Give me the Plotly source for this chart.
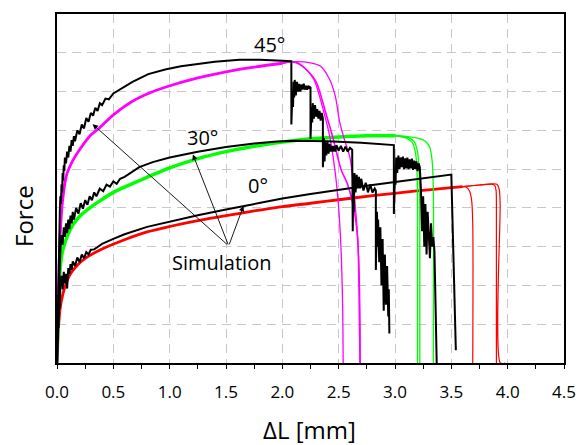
import plotly.graph_objects as go

# ---------------- simulated curves (coloured) ----------------
# 0 deg simulation: shared loading branch, then three fracture tails
x_sim0 = [0, 0.005, 0.015, 0.03, 0.05, 0.08, 0.12, 0.18, 0.25, 0.4, 0.6, 0.8, 1.0, 1.25, 1.5,
          1.75, 2.0, 2.25, 2.5, 2.82, 3.17, 3.5, 3.6]
f_sim0 = [0, 0.5, 1.0, 1.45, 1.75, 2.05, 2.3, 2.52, 2.7, 2.94, 3.18, 3.38, 3.52, 3.67, 3.8,
          3.92, 4.03, 4.12, 4.21, 4.32, 4.43, 4.52, 4.55]
x_sim0_a = [3.6, 3.63, 3.66, 3.68, 3.69, 3.69]
f_sim0_a = [4.55, 4.54, 4.44, 4.2, 3.6, 0]
x_sim0_b = [3.6, 3.75, 3.86, 3.885, 3.897, 3.9, 3.9]
f_sim0_b = [4.55, 4.59, 4.61, 4.58, 4.45, 4.1, 0]
x_sim0_c = [3.6, 3.75, 3.86, 3.905, 3.925, 3.933, 3.935, 3.98]
f_sim0_c = [4.55, 4.59, 4.62, 4.61, 4.48, 4.1, 0, 0]

# 30 deg simulation
x_sim30 = [0, 0.01, 0.02, 0.03, 0.05, 0.087, 0.145, 0.2, 0.3, 0.38, 0.5, 0.73, 1.0, 1.25, 1.5,
           1.75, 2.0, 2.25, 2.5, 2.75, 3.0]
f_sim30 = [0, 1.2, 2.0, 2.5, 2.9, 3.24, 3.58, 3.78, 4.02, 4.18, 4.4, 4.7, 5.03, 5.27, 5.45,
           5.59, 5.7, 5.78, 5.83, 5.86, 5.86]
x_sim30_a = [3.0, 3.1, 3.15, 3.18, 3.195, 3.2, 3.2]
f_sim30_a = [5.86, 5.8, 5.7, 5.45, 5.0, 4.0, 0]
x_sim30_b = [3.0, 3.12, 3.17, 3.2, 3.213, 3.22, 3.22]
f_sim30_b = [5.86, 5.81, 5.71, 5.45, 5.0, 4.0, 0]
x_sim30_c = [3.0, 3.2, 3.27, 3.31, 3.33, 3.34, 3.34]
f_sim30_c = [5.87, 5.8, 5.72, 5.55, 5.2, 4.5, 0]

# 45 deg simulation
x_sim45 = [0, 0.01, 0.02, 0.03, 0.05, 0.087, 0.14, 0.2, 0.3, 0.38, 0.5, 0.67, 0.81, 0.96,
           1.25, 1.5, 1.75, 2.0]
f_sim45 = [0, 1.5, 2.6, 3.4, 4.2, 4.87, 5.22, 5.5, 5.88, 6.07, 6.4, 6.75, 6.95, 7.11,
           7.35, 7.51, 7.63, 7.73]
x_sim45_a = [2.0, 2.1, 2.2, 2.28, 2.37, 2.42, 2.47, 2.5, 2.52, 2.535, 2.54]
f_sim45_a = [7.73, 7.76, 7.6, 7.31, 6.45, 5.85, 4.9, 4.0, 3.0, 1.5, 0]
x_sim45_b = [2.0, 2.12, 2.22, 2.3, 2.39, 2.45, 2.52, 2.58, 2.64, 2.67, 2.68, 2.69]
f_sim45_b = [7.73, 7.76, 7.55, 7.25, 6.4, 5.8, 5.0, 4.6, 3.9, 3.15, 2.0, 0]
x_sim45_c = [2.0, 2.1, 2.25, 2.34, 2.42, 2.47, 2.51, 2.55, 2.6, 2.63, 2.66, 2.68, 2.69, 2.69]
f_sim45_c = [7.73, 7.77, 7.74, 7.65, 7.31, 6.88, 6.2, 5.77, 5.3, 4.6, 3.6, 2.5, 1.0, 0]

# ---------------- measured curves (black) ----------------
x_exp0 = [0, 0.005, 0.01, 0.015, 0.02, 0.025, 0.03, 0.04, 0.05, 0.06, 0.07, 0.08, 0.09, 0.10,
          0.11, 0.12, 0.13, 0.14, 0.16, 0.18, 0.20, 0.22, 0.24, 0.26, 0.28, 0.30, 0.33, 0.36,
          0.40, 0.5, 0.6, 0.8, 1.0, 1.25, 1.5, 1.75, 2.0, 2.25, 2.5, 2.75, 3.0, 3.25, 3.48,
          3.5, 3.54]
f_exp0 = [0, 0.7, 1.3, 0.9, 1.8, 1.4, 2.1, 2.25, 1.9, 2.35, 2.05, 2.3, 1.92, 2.45,
          2.3, 2.55, 2.4, 2.62, 2.5, 2.72, 2.6, 2.8, 2.7, 2.86, 2.8, 2.92, 2.93, 2.99,
          3.07, 3.2, 3.32, 3.51, 3.65, 3.81, 3.96, 4.1, 4.24, 4.36, 4.47, 4.57, 4.67, 4.76, 4.85,
          4.86, 0.33]

x_exp30 = [0, 0.01, 0.02, 0.03, 0.04, 0.05, 0.06, 0.07, 0.08, 0.09, 0.1, 0.11, 0.12, 0.13,
           0.14, 0.15, 0.17, 0.19, 0.21, 0.23, 0.25, 0.27, 0.29, 0.31, 0.33, 0.35, 0.38, 0.41,
           0.44, 0.47, 0.5, 0.53, 0.56, 0.6, 0.65, 0.73, 0.85, 1.0, 1.25, 1.5, 1.75, 1.95,
           2.12, 2.4, 2.7, 2.96, 2.99,
           2.99, 3.0, 3.005, 3.01, 3.02, 3.03, 3.04, 3.05, 3.06, 3.07, 3.08, 3.09, 3.1, 3.11,
           3.12, 3.13, 3.14, 3.15, 3.16, 3.17, 3.18, 3.19, 3.2, 3.21, 3.22,
           3.23, 3.24, 3.25, 3.26, 3.27, 3.28, 3.29, 3.3, 3.31, 3.32, 3.33, 3.34, 3.35, 3.36,
           3.37]
f_exp30 = [0, 1.4, 2.2, 2.9, 3.3, 3.05, 3.5, 3.25, 3.6, 3.35, 3.7, 3.45, 3.8, 3.6,
           3.9, 3.7, 4.0, 3.85, 4.12, 3.98, 4.2, 4.08, 4.3, 4.2, 4.4, 4.3, 4.5, 4.43,
           4.6, 4.55, 4.68, 4.62, 4.75, 4.8, 4.9, 5.05, 5.18, 5.3, 5.45, 5.57, 5.66, 5.71,
           5.73, 5.72, 5.68, 5.63, 5.62,
           3.84, 4.9, 4.6, 5.3, 4.9, 5.35, 5.0, 5.3, 5.05, 5.32, 5.0, 5.28, 5.02, 5.3,
           5.0, 5.25, 5.02, 5.27, 4.98, 5.22, 5.0, 5.2, 4.95, 5.15, 5.05,
           4.5, 3.4, 4.3, 3.0, 4.1, 2.8, 3.9, 3.3, 2.7, 3.6, 3.0, 3.25, 2.9, 1.5,
           0]

x_exp45 = [0, 0.005, 0.01, 0.015, 0.02, 0.025, 0.03, 0.035, 0.04, 0.045, 0.05, 0.055, 0.06,
           0.065, 0.07, 0.08, 0.09, 0.1, 0.11, 0.12, 0.13, 0.14, 0.15, 0.16, 0.18, 0.2, 0.22,
           0.24, 0.26, 0.28, 0.3, 0.32, 0.34, 0.36, 0.38, 0.4, 0.43, 0.46, 0.5, 0.58, 0.67,
           0.81, 0.96, 1.1, 1.25, 1.4, 1.62, 1.8, 1.95, 2.08,
           2.08, 2.09, 2.095, 2.1, 2.105, 2.11, 2.12, 2.13, 2.14, 2.15, 2.16, 2.17, 2.18, 2.19,
           2.2, 2.21, 2.22, 2.23, 2.24, 2.25,
           2.25, 2.26, 2.265, 2.27, 2.28, 2.29, 2.3, 2.31, 2.32, 2.33, 2.34, 2.35, 2.36,
           2.36, 2.37, 2.375, 2.38, 2.39, 2.4, 2.41, 2.42, 2.43, 2.44, 2.45, 2.46, 2.47, 2.48,
           2.5, 2.52, 2.54, 2.56, 2.58, 2.6, 2.62,
           2.625, 2.63, 2.635, 2.64, 2.65, 2.66, 2.67, 2.68, 2.69, 2.7, 2.72, 2.74, 2.76, 2.78,
           2.8, 2.82, 2.83,
           2.83, 2.84, 2.845, 2.85, 2.86, 2.87, 2.88, 2.89, 2.9, 2.91, 2.92, 2.93, 2.94, 2.945,
           2.95]
f_exp45 = [0, 1.0, 2.0, 2.8, 3.4, 3.9, 4.3, 4.1, 4.6, 4.4, 4.9, 4.7, 5.1,
           4.95, 5.3, 5.15, 5.45, 5.3, 5.6, 5.45, 5.75, 5.6, 5.85, 5.72, 6.0, 5.9, 6.15,
           6.05, 6.32, 6.22, 6.45, 6.38, 6.58, 6.5, 6.7, 6.65, 6.82, 6.8, 6.95, 7.1, 7.25,
           7.45, 7.57, 7.65, 7.71, 7.77, 7.82, 7.82, 7.8, 7.78,
           6.15, 7.0, 6.6, 7.25, 6.85, 7.3, 6.9, 7.25, 7.0, 7.2, 7.0, 7.18, 7.05, 7.2,
           7.05, 7.15, 7.05, 7.15, 7.1, 7.12,
           5.78, 6.6, 6.2, 6.7, 6.3, 6.65, 6.35, 6.55, 6.3, 6.5, 6.25, 6.45, 6.3,
           5.05, 5.8, 5.2, 5.7, 5.35, 5.7, 5.4, 5.65, 5.45, 5.6, 5.45, 5.6, 5.45, 5.62,
           5.48, 5.6, 5.45, 5.58, 5.45, 5.55, 5.5,
           3.4, 4.8, 3.9, 4.9, 4.4, 4.85, 4.5, 4.8, 4.5, 4.75, 4.45, 4.65, 4.4, 4.6,
           4.4, 4.5, 4.45,
           2.4, 3.9, 3.0, 3.7, 2.6, 3.5, 2.0, 3.2, 1.35, 2.8, 1.5, 2.5, 1.2, 1.9,
           0.76]

# ---------------- labels ----------------
angle_labels = ["45°", "30°", "0°"]
angle_label_x = [1.884, 1.292, 1.788]
angle_label_y = [8.22, 5.82, 4.59]
sim_label = "Simulation"
sim_label_xy = (1.459, 2.59)
arrow_tail = (1.524, 3.02)
arrow_heads_x = [0.316, 1.206, 1.655]
arrow_heads_y = [6.16, 5.38, 4.05]
x_ticks = [0.0, 0.5, 1.0, 1.5, 2.0, 2.5, 3.0, 3.5, 4.0, 4.5]

MAGENTA = "#ff00ff"
GREEN = "#00ff00"
RED = "#ff0000"

fig = go.Figure()


def add_line(x, y, color, width, shape="linear"):
    fig.add_trace(go.Scatter(x=x, y=y, mode="lines", showlegend=False, hoverinfo="skip",
                             line=dict(color=color, width=width, shape=shape,
                                       smoothing=0.8)))


# simulations underneath: smooth loading branches, then fracture tails
add_line(x_sim0, f_sim0, RED, 2.8, "spline")
for xs, ys in [(x_sim0_a, f_sim0_a), (x_sim0_b, f_sim0_b), (x_sim0_c, f_sim0_c)]:
    add_line(xs, ys, RED, 1.2, "spline")
add_line(x_sim30, f_sim30, GREEN, 3.5, "spline")
for xs, ys in [(x_sim30_a, f_sim30_a), (x_sim30_b, f_sim30_b), (x_sim30_c, f_sim30_c)]:
    add_line(xs, ys, GREEN, 1.3, "spline")
add_line(x_sim45, f_sim45, MAGENTA, 2.8, "spline")
for xs, ys, w in [(x_sim45_a, f_sim45_a, 1.3), (x_sim45_b, f_sim45_b, 1.6),
                  (x_sim45_c, f_sim45_c, 1.3)]:
    add_line(xs, ys, MAGENTA, w, "spline")

# measurements on top
for xs, ys in [(x_exp0, f_exp0), (x_exp30, f_exp30), (x_exp45, f_exp45)]:
    add_line(xs, ys, "black", 2.0)

FONT = "Open Sans"
annotations = []
for t, ax_, ay_ in zip(angle_labels, angle_label_x, angle_label_y):
    annotations.append(dict(x=ax_, y=ay_, xref="x", yref="y", text=t, showarrow=False,
                            xanchor="center", yanchor="middle",
                            font=dict(family=FONT, size=20, color="black")))
annotations.append(dict(x=sim_label_xy[0], y=sim_label_xy[1], xref="x", yref="y",
                        text=sim_label, showarrow=False, xanchor="center", yanchor="middle",
                        font=dict(family=FONT, size=20, color="black")))
for hx, hy in zip(arrow_heads_x, arrow_heads_y):
    annotations.append(dict(x=hx, y=hy, xref="x", yref="y", ax=arrow_tail[0],
                            ay=arrow_tail[1], axref="x", ayref="y", text="",
                            showarrow=True, arrowhead=2, arrowsize=1.2, arrowwidth=0.9,
                            arrowcolor="black"))
annotations.append(dict(x=0.498, y=-0.19, xref="paper", yref="paper", text="ΔL [mm]",
                        xanchor="center", yanchor="middle",
                        showarrow=False, font=dict(family=FONT, size=24, color="black")))
annotations.append(dict(x=-0.066, y=0.42, xref="paper", yref="paper", text="Force",
                        textangle=-90, showarrow=False, xanchor="center", yanchor="middle",
                        font=dict(family=FONT, size=24, color="black")))

fig.update_layout(
    width=588, height=445,
    margin=dict(l=57, r=15, t=13, b=82),
    paper_bgcolor="white", plot_bgcolor="white",
    annotations=annotations,
    xaxis=dict(range=[0, 4.5], tickvals=x_ticks, ticktext=[f"{v:.1f}" for v in x_ticks],
               ticks="outside", ticklen=4, tickcolor="black", tickwidth=1.2,
               ticklabelstandoff=9,
               minor=dict(dtick=0.25, ticks="outside", ticklen=4, tickcolor="black",
                          tickwidth=1.2, showgrid=False),
               showline=True, linecolor="black", linewidth=1.5, mirror=True,
               showgrid=True, gridcolor="#c8c8c8", gridwidth=1.2, griddash="9px,6px",
               zeroline=False, tickfont=dict(family=FONT, size=17, color="black")),
    yaxis=dict(range=[0, 9], dtick=1, showticklabels=False, ticks="",
               showline=True, linecolor="black", linewidth=1.5, mirror=True,
               showgrid=True, gridcolor="#c8c8c8", gridwidth=1.2, griddash="9px,6px",
               zeroline=False),
)

fig.write_html("out.html")
